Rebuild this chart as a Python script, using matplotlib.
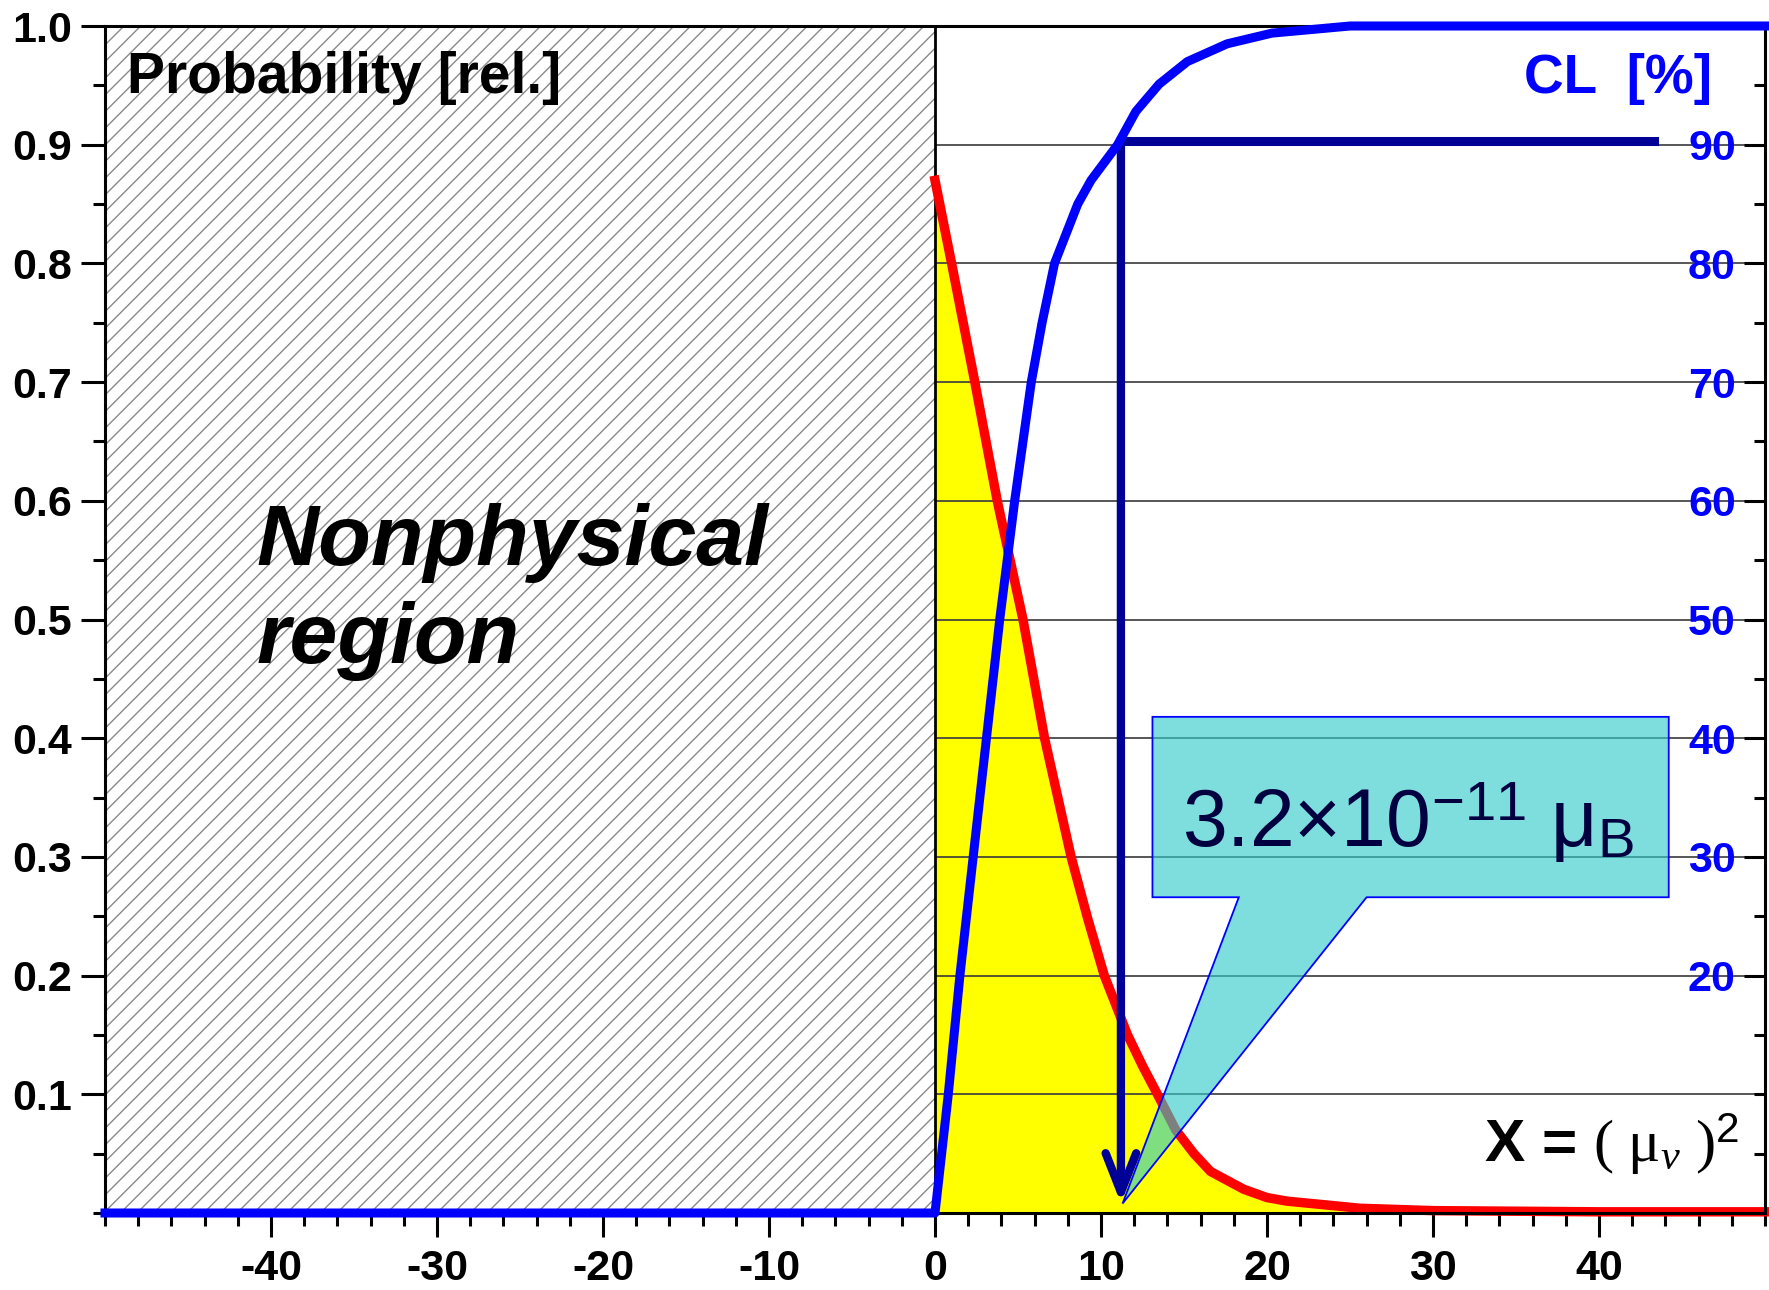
import matplotlib.pyplot as plt
from matplotlib.patches import Rectangle, Polygon
from matplotlib.ticker import FixedLocator, MultipleLocator

plt.rcParams['font.family'] = ['Liberation Sans', 'DejaVu Sans']
plt.rcParams['axes.unicode_minus'] = False
plt.rcParams['mathtext.fontset'] = 'custom'
plt.rcParams['mathtext.rm'] = 'Liberation Serif'
plt.rcParams['mathtext.it'] = 'Liberation Serif:italic'
plt.rcParams['mathtext.bf'] = 'Liberation Sans:bold'
plt.rcParams['mathtext.sf'] = 'Liberation Sans'
plt.rcParams['hatch.linewidth'] = 1.0

# Probability density (relative)
prob_x = [0, 1.0, 2.4, 3.75, 5.3, 6.6, 7.4, 8.2, 9.2, 10.2, 11.6, 12.5, 13.4,
          14.5, 15.6, 16.6, 18.6, 20.0, 21.2, 25.6, 30, 40, 50]
prob_y = [0.87, 0.80, 0.70, 0.60, 0.50, 0.40, 0.35, 0.30, 0.248, 0.20, 0.15,
          0.124, 0.10, 0.07, 0.05, 0.035, 0.02, 0.013, 0.01, 0.004, 0.002,
          0.001, 0.001]

# Confidence level [%]
cl_x = [-50, 0, 0.8, 1.5, 2.3, 3.1, 3.9, 4.8, 5.8, 6.45, 7.2, 8.6, 9.4, 11.0,
        12.1, 13.5, 15.2, 17.6, 20.3, 25.0, 50]
cl_y = [0, 0, 10, 20, 30, 40, 50, 60, 70, 75, 80, 85, 87, 90,
        92.8, 95.1, 97.0, 98.5, 99.4, 100, 100]

x_ticks = [-40, -30, -20, -10, 0, 10, 20, 30, 40]
p_ticks = [0.1, 0.2, 0.3, 0.4, 0.5, 0.6, 0.7, 0.8, 0.9, 1.0]
p_labels = ['0.1', '0.2', '0.3', '0.4', '0.5', '0.6', '0.7', '0.8', '0.9', '1.0']
cl_ticks = [20, 30, 40, 50, 60, 70, 80, 90]

cl_level = 90
x_limit = 11.2     # X where CL reaches 90 %
limit_text = '3.2×10$^{\\mathsf{-11}}$ μ$_{\\mathsf{B}}$'

navy = '#000096'
blue = '#0000FF'

fig = plt.figure(figsize=(17.69, 12.90), dpi=100)
ax = fig.add_axes([105 / 1769, 1 - 1213 / 1290, 1660 / 1769, 1187 / 1290])
ax2 = ax.twinx()

ax.set_xlim(-50, 50)
ax.set_ylim(0, 1)
ax2.set_ylim(0, 100)

# grid only where not hatched
ax.set_axisbelow(True)
ax.yaxis.grid(True, color='#3a3a3a', lw=1.2)

# nonphysical region
ax.add_patch(Rectangle((-50, 0), 50, 1, facecolor='white', edgecolor='#8a8a8a',
                       hatch='//', lw=0, zorder=1))
ax.axvline(0, color='black', lw=2, zorder=1.5)

# probability curve
ax.fill_between(prob_x, prob_y, 0, color='#FFFF00', lw=0, zorder=0.3)
ax.plot(prob_x, prob_y, color='#FF0000', lw=6.8, zorder=2, clip_on=False,
        solid_joinstyle='round')

# CL curve
ax2.plot(cl_x, cl_y, color=blue, lw=6.5, clip_on=False, zorder=2,
         solid_joinstyle='round')

# 90% CL marker
ax.plot([43.3, x_limit], [cl_level / 100 + 0.003] * 2, color=navy, lw=6.5,
        solid_capstyle='projecting', zorder=3)
ax.annotate('', xy=(x_limit, 0.008), xytext=(x_limit, cl_level / 100 + 0.003),
            arrowprops=dict(arrowstyle='->,head_length=1.4,head_width=0.55',
                            mutation_scale=20, lw=6.0, color=navy,
                            shrinkA=0, shrinkB=0),
            zorder=3)

# callout
callout = Polygon([(13.1, 0.418), (44.2, 0.418), (44.2, 0.266), (26.0, 0.266),
                   (11.3, 0.008), (18.3, 0.266), (13.1, 0.266)],
                  closed=True, facecolor=(0.2, 0.8, 0.8, 0.63),
                  edgecolor=blue, lw=1.3, zorder=4)
ax.add_patch(callout)
ax.text(14.9, 0.308, limit_text, fontsize=58, color='#000040',
        va='baseline', ha='left', zorder=5)

# texts
ax.text(0.0133, 0.9436, 'Probability [rel.]', transform=ax.transAxes,
        fontsize=41, fontweight='bold', va='baseline', ha='left', zorder=5)
ax.text(0.968, 0.9436, 'CL  [%]', transform=ax.transAxes, color=blue,
        fontsize=39.5, fontweight='bold', va='baseline', ha='right', zorder=5)
ax.text(-40.9, 0.546, 'Nonphysical', fontsize=62, fontweight='bold',
        style='italic', va='baseline', ha='left', zorder=5)
ax.text(-40.9, 0.463, 'region', fontsize=62, fontweight='bold',
        style='italic', va='baseline', ha='left', zorder=5)
ax.text(33.1, 0.043, 'X = $(\\ \\mathrm{\\mu}_{\\nu}\\ )^{\\mathsf{2}}$',
        fontsize=43.5, fontweight='bold', va='baseline', ha='left', zorder=5)

# axes styling
for s in ['left', 'right', 'top', 'bottom']:
    ax.spines[s].set_linewidth(2.2)
    ax2.spines[s].set_visible(False)

ax.xaxis.set_major_locator(FixedLocator(x_ticks))
ax.xaxis.set_minor_locator(MultipleLocator(2))
ax.yaxis.set_major_locator(FixedLocator(p_ticks))
ax.yaxis.set_minor_locator(MultipleLocator(0.05))
ax.set_yticklabels(p_labels)
ax.tick_params(axis='both', which='major', direction='out', length=17, width=2.2,
               labelsize=31, pad=7)
ax.tick_params(axis='both', which='minor', direction='out', length=9, width=2.2)
ax.tick_params(axis='x', which='major', pad=9)
for lbl in ax.get_xticklabels() + ax.get_yticklabels():
    lbl.set_fontweight('bold')

ax2.yaxis.set_major_locator(FixedLocator(cl_ticks))
ax2.yaxis.set_minor_locator(MultipleLocator(5))
ax2.tick_params(axis='y', which='major', direction='in', length=15, width=2.2,
                labelsize=31, labelcolor=blue, pad=-21)
ax2.tick_params(axis='y', which='minor', direction='in', length=8, width=2.2)
for lbl in ax2.get_yticklabels():
    lbl.set_fontweight('bold')
    lbl.set_horizontalalignment('right')

fig.savefig('out.png', dpi=100)
